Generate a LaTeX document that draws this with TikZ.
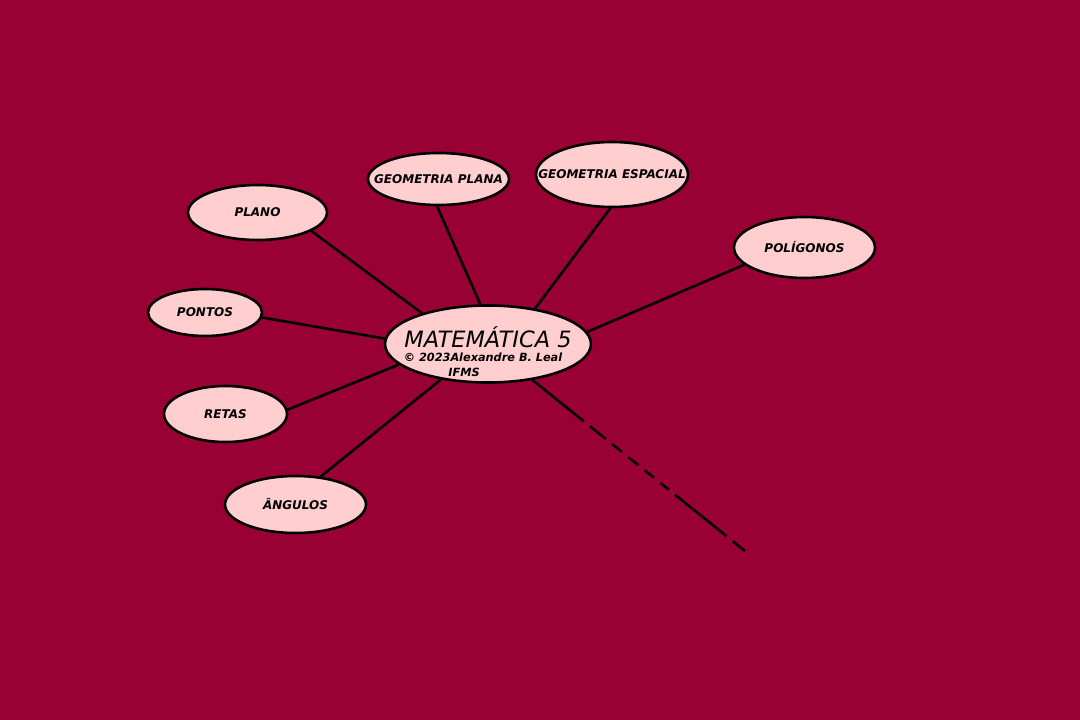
\documentclass[tikz,border=0pt]{standalone}
\usepackage{fontspec}
\setmainfont{DejaVu Sans}
\usetikzlibrary{shapes.geometric}
\definecolor{bgred}{RGB}{153,0,51}
\definecolor{pinkfill}{RGB}{255,206,206}
\begin{document}
\begin{tikzpicture}[x=1pt,y=-1pt,
  bubble/.style={ellipse,draw=black,line width=2.6pt,fill=pinkfill,inner sep=0pt},
  lbl/.style={label={[inner sep=0pt,text=black,font=\fontsize{12}{14}\selectfont\bfseries\itshape]center:#1}},
  link/.style={line width=2.6pt,draw=black},
  txt/.style={inner sep=0pt,text=black}]
\fill[bgred] (0,0) rectangle (1080,720);
\useasboundingbox (0,0) rectangle (1080,720);
% main node
\node[bubble,minimum width=206pt,minimum height=77pt] (main) at (488,344) {};
\node[txt,font=\fontsize{22.5}{26}\selectfont\itshape] (title) at (488,337) {MATEMÁTICA 5};
\node[txt,font=\fontsize{11.3}{13}\selectfont\bfseries\itshape] (copy) at (483,357) {© 2023Alexandre B. Leal};
\node[txt,font=\fontsize{11.3}{13}\selectfont\bfseries\itshape] (ifms) at (464,372) {IFMS};
% satellites
\node[bubble,minimum width=139pt,minimum height=55pt,lbl={PLANO}] (plano) at (257.5,212.5) {};
\node[bubble,minimum width=141pt,minimum height=52pt,lbl={GEOMETRIA PLANA}] (gplana) at (438.5,179) {};
\node[bubble,minimum width=152pt,minimum height=65pt,lbl={GEOMETRIA ESPACIAL}] (gesp) at (612,174.5) {};
\node[bubble,minimum width=141pt,minimum height=61pt,lbl={POLÍGONOS}] (poli) at (804.5,247.5) {};
\node[bubble,minimum width=114pt,minimum height=47pt,lbl={PONTOS}] (pontos) at (205,312.5) {};
\node[bubble,minimum width=123pt,minimum height=56pt,lbl={RETAS}] (retas) at (225.5,414) {};
\node[bubble,minimum width=141pt,minimum height=57pt,lbl={ÂNGULOS}] (angulos) at (295.5,504.5) {};
\coordinate (free) at (745,551);
% connectors
\draw[link] (plano.-19.6) -- (main.155.5);
\draw[link] (gplana.-93) -- (main.101.6);
\draw[link] (gesp.-93.3) -- (main.37.7);
\draw[link] (poli.196.4) -- (main.7.5);
\draw[link] (pontos.-5.4) -- (main.177.8);
\draw[link] (retas.4.6) -- (main.193.7);
\draw[link] (angulos.48.3) -- (main.217.6);
\draw[link,dash pattern=on 66pt off 8pt on 20pt off 8pt on 13pt off 8pt on 13pt off 8pt on 12pt off 8pt on 11pt off 8pt] (main.-39.7) -- (free);
\end{tikzpicture}
\end{document}
